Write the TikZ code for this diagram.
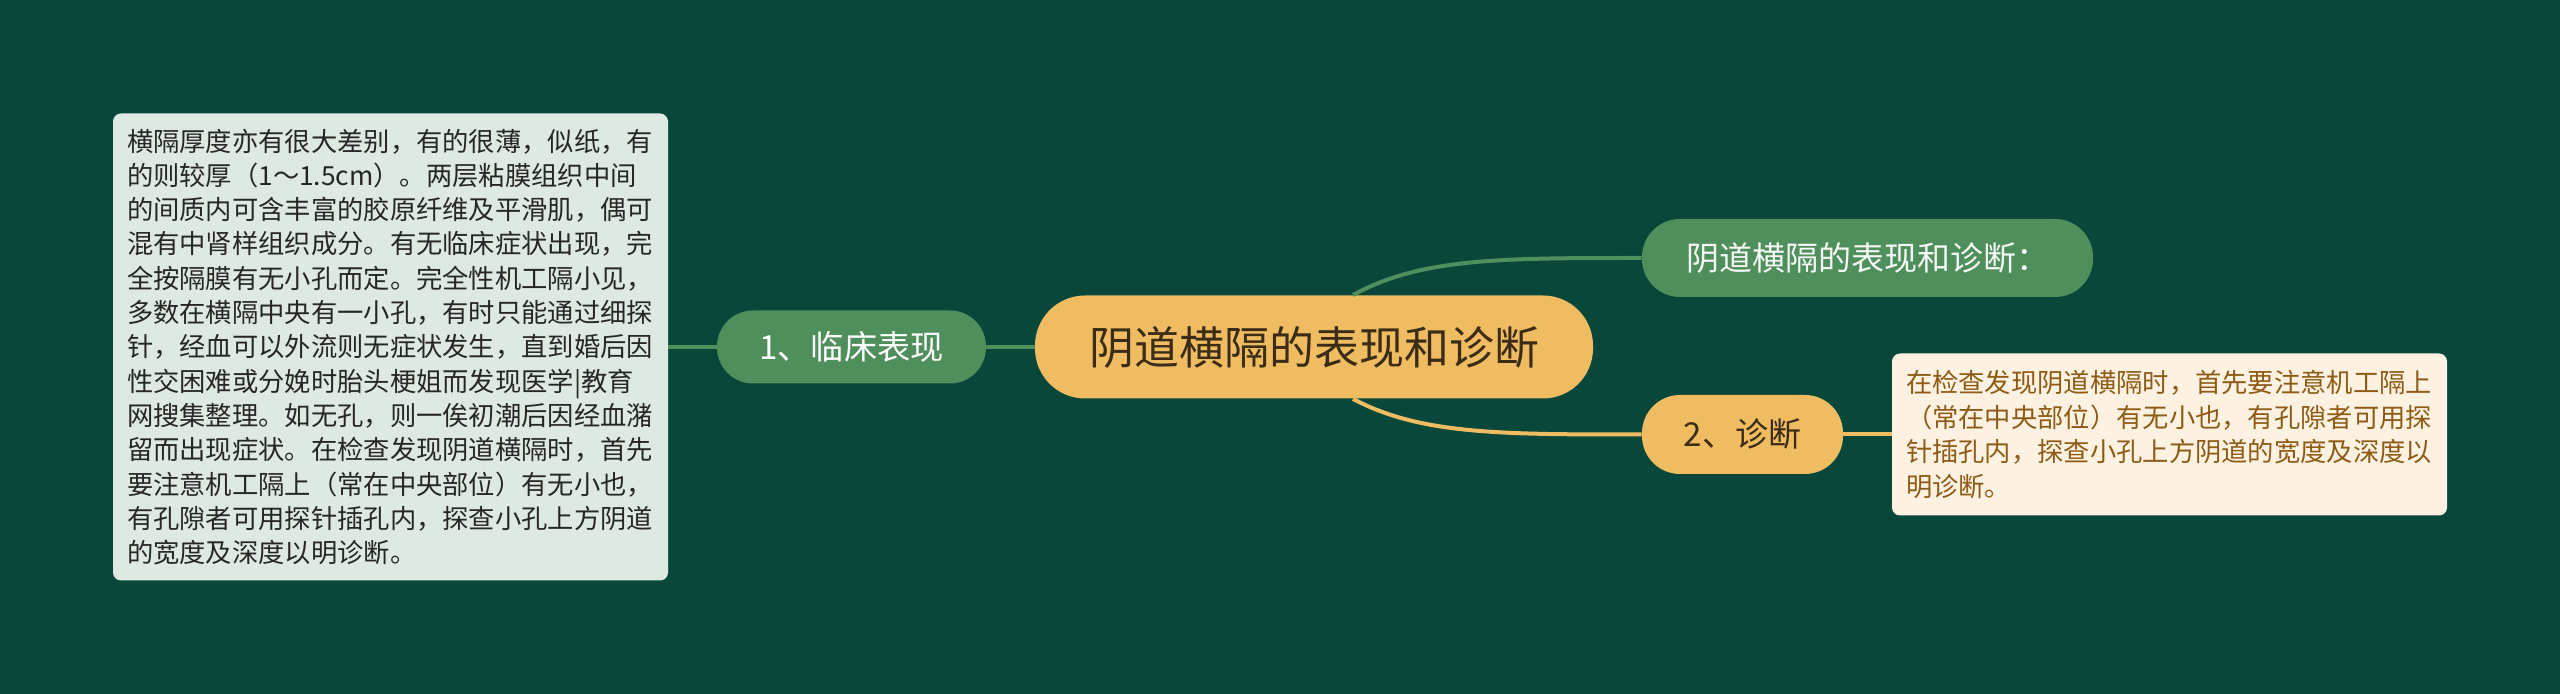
\documentclass[tikz,border=0pt]{standalone}
\usepackage{fontspec}
\setmainfont{Noto Sans CJK SC}
\definecolor{bg}{HTML}{08473A}
\definecolor{gnode}{HTML}{4F8F5C}
\definecolor{onode}{HTML}{F0BC62}
\definecolor{lbfill}{HTML}{DEEAE1}
\definecolor{rbfill}{HTML}{FDF1E2}
\definecolor{darktxt}{HTML}{3A2C16}
\definecolor{browntxt}{HTML}{8E5B14}
\tikzset{
  pill/.style={rounded corners=#1, inner sep=0pt, align=center},
  gpill/.style={pill=#1, fill=gnode, text=white},
  opill/.style={pill=#1, fill=onode, text=darktxt},
  tbox/.style={rounded corners=4pt, inner xsep=7pt, inner ysep=0pt, align=left},
  gline/.style={draw=gnode, line width=2pt},
  oline/.style={draw=onode, line width=2pt},
}
\begin{document}
\begin{tikzpicture}[x=0.5pt,y=-0.5pt]
\fill[bg] (0,0) rectangle (2560,694);
\useasboundingbox (0,0) rectangle (2560,694);
% nodes
\node[opill=25pt, minimum width=279pt, minimum height=51.5pt,
  font=\fontsize{22.5pt}{26pt}\selectfont] (c) at (1314,347) {阴道横隔的表现和诊断};
\node[gpill=18pt, minimum width=134.5pt, minimum height=36.5pt,
  font=\fontsize{16.6pt}{20pt}\selectfont] (n1) at (851.5,347) {1、临床表现};
\node[gpill=19pt, minimum width=225.5pt, minimum height=39pt,
  font=\fontsize{16.5pt}{20pt}\selectfont, text=white!94!gnode] (t1) at (1867.5,258) {阴道横隔的表现和诊断：};
\node[opill=19pt, minimum width=100.5pt, minimum height=39.5pt,
  font=\fontsize{16.5pt}{20pt}\selectfont] (n2) at (1742.5,434.5) {2、诊断};
\node[tbox, fill=lbfill, text=black!85, minimum width=277.5pt, minimum height=233.5pt,
  text width=263.5pt, font=\fontsize{13.15pt}{17.15pt}\selectfont] (lb) at (390.5,347)
  {横隔厚度亦有很大差别，有的很薄，似纸，有\\
   的则较厚（1～1.5cm）。两层粘膜组织中间\\
   的间质内可含丰富的胶原纤维及平滑肌，偶可\\
   混有中肾样组织成分。有无临床症状出现，完\\
   全按隔膜有无小孔而定。完全性机工隔小见，\\
   多数在横隔中央有一小孔，有时只能通过细探\\
   针，经血可以外流则无症状发生，直到婚后因\\
   性交困难或分娩时胎头梗姐而发现医学|教育\\
   网搜集整理。如无孔，则一俟初潮后因经血潴\\
   留而出现症状。在检查发现阴道横隔时，首先\\
   要注意机工隔上（常在中央部位）有无小也，\\
   有孔隙者可用探针插孔内，探查小孔上方阴道\\
   的宽度及深度以明诊断。};
\node[tbox, fill=rbfill, text=browntxt, minimum width=277.5pt, minimum height=81pt,
  text width=263.5pt, font=\fontsize{13.15pt}{17.4pt}\selectfont] (rb) at (2169.5,434.5)
  {在检查发现阴道横隔时，首先要注意机工隔上\\
   （常在中央部位）有无小也，有孔隙者可用探\\
   针插孔内，探查小孔上方阴道的宽度及深度以\\
   明诊断。};
% connectors
\draw[gline] (lb.east) -- (n1.west);
\draw[gline] (n1.east) -- (c.west);
\draw[gline] ([xshift=19.5pt]c.north) .. controls (1420,258) and (1500,258) .. (t1.west);
\draw[oline] ([xshift=19.5pt]c.south) .. controls (1420,434.5) and (1500,434.5) .. (n2.west);
\draw[oline] (n2.east) -- (rb.west);
\end{tikzpicture}
\end{document}
